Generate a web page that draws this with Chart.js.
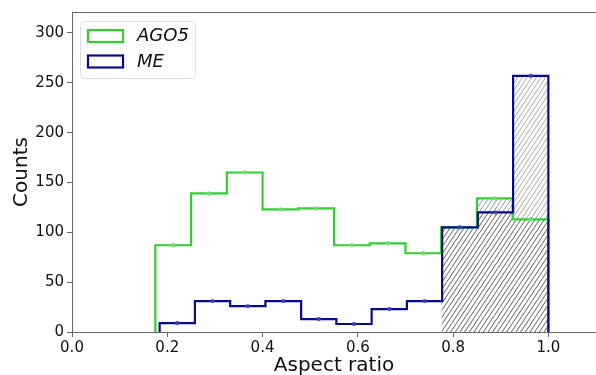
<!DOCTYPE html>
<html>
<head>
<meta charset="utf-8">
<script src="https://cdn.jsdelivr.net/npm/chart.js@4.4.1/dist/chart.umd.min.js"></script>
<style>
  html, body { margin: 0; padding: 0; background: #fff; }
  #wrap { width: 596px; height: 375px; }
</style>
</head>
<body>
<div id="wrap"><canvas id="chart"></canvas></div>
<script>
// histogram bins (edges) and counts
const agoEdges = [0.175, 0.25, 0.325, 0.4, 0.475, 0.55, 0.625, 0.7, 0.775, 0.85, 0.925, 1.0];
const agoCounts = [87, 139, 160, 123, 124, 87, 89, 79, 105, 134, 113];
const meEdges = [0.184, 0.258, 0.332, 0.406, 0.481, 0.555, 0.629, 0.703, 0.777, 0.852, 0.926, 1.0];
const meCounts = [9, 31, 26, 31, 13, 8, 23, 31, 105, 120, 257];
const hatchFromBin = 8;

const xTicks = [0.0, 0.2, 0.4, 0.6, 0.8, 1.0];
const yTicks = [0, 50, 100, 150, 200, 250, 300];
const seriesNames = ['AGO5', 'ME'];

const GREEN = '#2fd02f';
const NAVY = '#0a0a8c';
const FONT = "'DejaVu Sans', sans-serif";

// step outline of a histogram, starting at bin `from`
function steps(edges, counts, from) {
  const pts = [{ x: edges[from], y: 0 }];
  for (let i = from; i < counts.length; i++) {
    pts.push({ x: edges[i], y: counts[i] }, { x: edges[i + 1], y: counts[i] });
  }
  pts.push({ x: edges[counts.length], y: 0 });
  return pts;
}

function centres(edges, counts) {
  return counts.map((c, i) => ({ x: (edges[i] + edges[i + 1]) / 2, y: c }));
}

// "////" style hatch, roughly 4.7px between lines
function hatch(color) {
  const s = 14, n = 3;
  const cv = document.createElement('canvas');
  cv.width = s; cv.height = s;
  const g = cv.getContext('2d');
  g.strokeStyle = color;
  g.lineWidth = 0.9;
  for (let k = -n; k <= 2 * n; k++) {
    const c = k * s / n;
    g.beginPath();
    g.moveTo(c - s, 2 * s);
    g.lineTo(c + s, -s);
    g.stroke();
  }
  return document.createElement('canvas').getContext('2d').createPattern(cv, 'repeat');
}

const frame = {
  id: 'frame',
  afterDraw(chart) {
    const { ctx, chartArea: a } = chart;
    ctx.save();
    // top spine
    ctx.strokeStyle = '#666';
    ctx.lineWidth = 1;
    ctx.beginPath();
    ctx.moveTo(a.left, a.top + 0.5);
    ctx.lineTo(a.right, a.top + 0.5);
    ctx.stroke();

    // axis titles
    ctx.fillStyle = '#111';
    ctx.font = '20px ' + FONT;
    ctx.textAlign = 'center';
    ctx.textBaseline = 'top';
    ctx.fillText('Aspect ratio', 334, 356);
    ctx.translate(22, (a.top + a.bottom) / 2);
    ctx.rotate(-Math.PI / 2);
    ctx.textBaseline = 'middle';
    ctx.fillText('Counts', 0, 0);
    ctx.restore();

    // legend
    ctx.save();
    const bx = 80.5, by = 21.5, bw = 115, bh = 57, r = 4;
    ctx.beginPath();
    ctx.roundRect(bx, by, bw, bh, r);
    ctx.fillStyle = 'rgba(255,255,255,0.85)';
    ctx.fill();
    ctx.strokeStyle = '#dcdcdc';
    ctx.lineWidth = 1;
    ctx.stroke();
    const cols = [GREEN, NAVY];
    seriesNames.forEach((name, i) => {
      const y = 30 + i * 25.5;
      ctx.strokeStyle = cols[i];
      ctx.lineWidth = 2.2;
      ctx.strokeRect(88, y, 35, 12);
      ctx.fillStyle = '#111';
      ctx.font = 'italic 18px ' + FONT;
      ctx.textAlign = 'left';
      ctx.textBaseline = 'middle';
      ctx.fillText(name, 137, y + 6.5);
    });
    ctx.restore();
  }
};

new Chart(document.getElementById('chart'), {
  type: 'line',
  data: {
    datasets: [
      {
        label: 'ME hatch',
        data: steps(meEdges, meCounts, hatchFromBin),
        borderWidth: 0,
        pointRadius: 0,
        fill: 'origin',
        backgroundColor: hatch('rgba(60,60,60,0.5)'),
        order: 6
      },
      {
        label: 'AGO5 hatch',
        data: steps(agoEdges, agoCounts, hatchFromBin),
        borderWidth: 0,
        pointRadius: 0,
        fill: 'origin',
        backgroundColor: hatch('rgba(60,60,60,0.6)'),
        order: 5
      },
      {
        label: seriesNames[0],
        data: steps(agoEdges, agoCounts, 0),
        borderColor: GREEN,
        borderWidth: 2.2,
        pointRadius: 0,
        fill: false,
        order: 4
      },
      {
        label: seriesNames[0] + ' points',
        data: centres(agoEdges, agoCounts),
        showLine: false,
        pointRadius: 2.2,
        pointBorderWidth: 0,
        pointBackgroundColor: 'rgba(120,220,120,0.9)',
        order: 3
      },
      {
        label: seriesNames[1],
        data: steps(meEdges, meCounts, 0),
        borderColor: NAVY,
        borderWidth: 2.2,
        pointRadius: 0,
        fill: false,
        order: 2
      },
      {
        label: seriesNames[1] + ' points',
        data: centres(meEdges, meCounts),
        showLine: false,
        pointRadius: 2.2,
        pointBorderWidth: 0,
        pointBackgroundColor: 'rgba(70,70,180,0.85)',
        order: 1
      }
    ]
  },
  options: {
    responsive: true,
    maintainAspectRatio: false,
    animation: false,
    layout: { autoPadding: false, padding: { top: 12, right: 0, left: 0, bottom: 0 } },
    elements: { line: { tension: 0 } },
    plugins: {
      legend: { display: false },
      tooltip: { enabled: false }
    },
    scales: {
      x: {
        type: 'linear',
        min: 0,
        max: 1.1,
        afterBuildTicks: s => { s.ticks = xTicks.map(v => ({ value: v })); },
        afterFit: s => { s.height = 43; s.paddingRight = 0; s.paddingLeft = 0; },
        grid: { drawOnChartArea: false, drawTicks: true, tickLength: 5, color: '#666' },
        border: { color: '#666', width: 1 },
        ticks: {
          color: '#111',
          padding: 2,
          maxRotation: 0,
          font: { family: FONT, size: 15 },
          callback: v => v.toFixed(1)
        }
      },
      y: {
        min: 0,
        max: 321,
        afterBuildTicks: s => { s.ticks = yTicks.map(v => ({ value: v })); },
        afterFit: s => { s.width = 72; s.paddingTop = 0; s.paddingBottom = 0; },
        grid: { drawOnChartArea: false, drawTicks: true, tickLength: 5, color: '#666' },
        border: { color: '#666', width: 1 },
        ticks: {
          color: '#111',
          padding: 3,
          font: { family: FONT, size: 15 }
        }
      }
    }
  },
  plugins: [frame]
});
</script>
</body>
</html>
